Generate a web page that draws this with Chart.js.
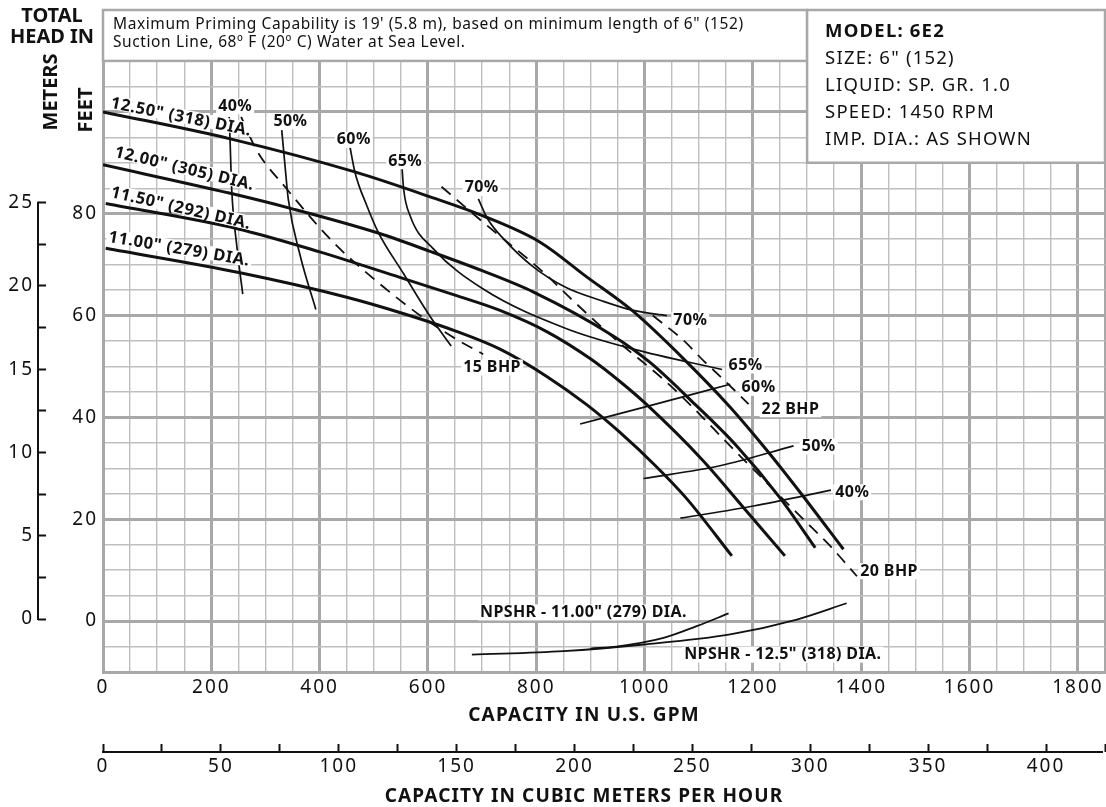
<!DOCTYPE html>
<html>
<head>
<meta charset="utf-8">
<title>6E2 pump curve</title>
<style>
  html, body { margin: 0; padding: 0; background: #fff; }
  canvas { display: block; }
</style>
</head>
<body>
<canvas id="pumpCurve" width="1106" height="807"></canvas>
<script src="https://cdn.jsdelivr.net/npm/chart.js"></script>
<script>
  const ctx = document.getElementById('pumpCurve').getContext('2d');

  // axis labels
  const gpmLabels = [0, 200, 400, 600, 800, 1000, 1200, 1400, 1600, 1800];
  const feetLabels = [0, 20, 40, 60, 80];
  const meterLabels = [0, 5, 10, 15, 20, 25];
  const meterTicks = [0, 2.5, 5, 7.5, 10, 12.5, 15, 17.5, 20, 22.5, 25];
  const m3hLabels = [0, 50, 100, 150, 200, 250, 300, 350, 400];

  // head curves [GPM, feet]
  const dia1250 = [[0, 100], [235, 94.7], [465, 88.2], [604, 83.3], [708, 79.3], [807, 74.4], [893, 67.6], [979, 60.8], [1072, 51.5], [1158, 42], [1226, 33.5], [1287, 25.3], [1367, 14.1]];
  const dia1200 = [[0, 89.6], [235, 84], [348, 81], [508, 76.2], [604, 72.6], [700, 68.8], [795, 64.6], [942, 56], [1010, 50.8], [1084, 43.5], [1170, 34.4], [1250, 24.2], [1315, 14.4]];
  const dia1150 = [[5, 82], [250, 77], [400, 72.5], [548, 67.5], [650, 64], [733, 61], [820, 56.8], [900, 51.5], [955, 47], [1004, 42.5], [1108, 31.5], [1180, 22.6], [1259, 12.8]];
  const dia1100 = [[5, 73.2], [253, 68.4], [450, 63.6], [548, 60.6], [650, 57], [733, 53.4], [820, 48], [893, 42.5], [955, 37], [1020, 30.5], [1078, 24], [1161, 12.8]];

  // efficiency curves
  const eff40a = [[233, 99], [234.5, 94.7], [237.6, 84.9], [247, 73.7], [258, 64.2]];
  const eff50a = [[330, 96.4], [336, 89.5], [342, 82.9], [364, 71.8], [393, 61.2]];
  const eff60a = [[456, 93.1], [465, 88.2], [487, 81.6], [508, 76.4], [555, 68.2], [604, 59.8], [643, 54]];
  const eff65 = [[552, 89.2], [555, 84.9], [567, 79.6], [610, 73.1], [702, 65.2], [856, 57.4], [979, 53.4], [1143, 49.4]];
  const eff70 = [[693, 82.9], [710, 79], [740, 75], [795, 69.5], [855, 65.5], [918, 63], [979, 61], [1041, 60]];
  const eff60b = [[881, 38.7], [1010, 42.3], [1158, 46.5]];
  const eff50b = [[998, 28], [1139, 30.5], [1275, 34.4]];
  const eff40b = [[1066, 20.2], [1201, 22.6], [1344, 25.7]];

  // brake horsepower
  const bhp15 = [[255, 99], [284, 92.4], [339, 84.9], [425, 74.4], [518, 65.6], [595, 59.3], [650, 55.5], [702, 52.4]];
  const bhp20 = [[625, 85.3], [702, 78.3], [813, 68.5], [868, 62.9], [942, 55.7], [1050, 46], [1170, 33.1], [1290, 20.3], [1343, 14.7], [1392, 8.8]];
  const bhp22 = [[1015, 60], [1072, 55.1], [1109, 51.1], [1146, 47.4], [1192, 42.6]];

  // NPSHR
  const npsh1250 = [[681, -6.6], [850, -5.9], [998, -4.6], [1158, -2.6], [1281, 0.3], [1373, 3.5]];
  const npsh1100 = [[900, -5.4], [948, -5.0], [1035, -3.3], [1096, -1.0], [1155, 1.5]];

  const FONT = '"Noto Sans", "Open Sans", sans-serif';
  const INK = '#111';
  const MAJOR = '#a8a8a8';
  const MINOR = '#bfbfbf';

  // curve labels: [text, gpm, feet, angle]
  const diaNotes = [
    ['12.50" (318) DIA.', 13, 100.8, 11.3],
    ['12.00" (305) DIA.', 20, 91.2, 13.6],
    ['11.50" (292) DIA.', 13, 83.3, 13],
    ['11.00" (279) DIA.', 9, 74.5, 9.7]
  ];
  // flat labels: [text, gpm, feet, align]
  const flatNotes = [
    ['40%', 244, 101.1, 'center'],
    ['50%', 346, 98.2, 'center'],
    ['60%', 463, 94.5, 'center'],
    ['65%', 558, 90.3, 'center'],
    ['70%', 699, 85.1, 'center'],
    ['70%', 1053, 59.1, 'left'],
    ['65%', 1155, 50.2, 'left'],
    ['60%', 1179, 45.8, 'left'],
    ['22 BHP', 1216, 41.6, 'left'],
    ['50%', 1290, 34.3, 'left'],
    ['40%', 1352, 25.3, 'left'],
    ['20 BHP', 1398, 9.8, 'left'],
    ['15 BHP', 665, 49.8, 'left'],
    ['NPSHR - 11.00" (279) DIA.', 696, 1.7, 'left'],
    ['NPSHR - 12.5" (318) DIA.', 1073, -6.6, 'left']
  ];
  const noteLines = ['Maximum Priming Capability is 19\' (5.8 m), based on minimum length of 6" (152)', 'Suction Line, 68º F (20º C) Water at Sea Level.'];
  const specLines = ['MODEL: 6E2', 'SIZE: 6" (152)', 'LIQUID: SP. GR. 1.0', 'SPEED: 1450 RPM', 'IMP. DIA.: AS SHOWN'];

  function curve(points, width, dash) {
    return {
      data: points.map(([x, y]) => ({ x, y })),
      borderColor: INK,
      borderWidth: width,
      borderDash: dash || [],
      pointRadius: 0,
      cubicInterpolationMode: 'monotone',
      fill: false
    };
  }

  function spacing(c, s) { if ('letterSpacing' in c) c.letterSpacing = s; }

  function text(c, str, x, y, font, align, sp, bg) {
    c.save();
    c.font = font;
    spacing(c, sp || '0px');
    c.textAlign = align || 'left';
    c.textBaseline = 'middle';
    if (bg) {
      const w = c.measureText(str).width;
      const x0 = align === 'center' ? x - w / 2 : x;
      c.fillStyle = '#fff';
      c.fillRect(x0 - 2, y - 8, w + 4, 16);
    }
    c.fillStyle = INK;
    c.fillText(str, x, y);
    c.restore();
  }

  const decor = {
    id: 'decor',
    beforeUpdate(chart) { spacing(chart.ctx, '2px'); },
    beforeDraw(chart) { spacing(chart.ctx, '2px'); },
    beforeDatasetsDraw(chart) {
      const c = chart.ctx, x = chart.scales.x, y = chart.scales.y;
      const boxes = [[0, 1300, 110, 120], [1300, 1850, 90, 120]];
      c.save();
      boxes.forEach(([x0, x1, y0, y1]) => {
        const l = x.getPixelForValue(x0), r = x.getPixelForValue(x1);
        const t = y.getPixelForValue(y1), b = y.getPixelForValue(y0);
        c.fillStyle = '#fff';
        c.fillRect(l, t, r - l, b - t);
        c.strokeStyle = MAJOR;
        c.lineWidth = 2.5;
        c.strokeRect(l, t, r - l, b - t);
      });
      c.restore();
    },
    afterDatasetsDraw(chart) {
      const c = chart.ctx, x = chart.scales.x, y = chart.scales.y;

      // rotated impeller labels
      diaNotes.forEach(([str, gx, fy, ang]) => {
        c.save();
        c.translate(x.getPixelForValue(gx), y.getPixelForValue(fy));
        c.rotate(ang * Math.PI / 180);
        c.font = 'bold 16.5px ' + FONT;
        spacing(c, '0.6px');
        const w = c.measureText(str).width;
        c.fillStyle = '#fff';
        c.fillRect(-2, -13, w + 4, 14);
        c.fillStyle = INK;
        c.textBaseline = 'alphabetic';
        c.fillText(str, 0, 0);
        c.restore();
      });

      flatNotes.forEach(([str, gx, fy, align]) => {
        text(c, str, x.getPixelForValue(gx), y.getPixelForValue(fy), 'bold 16px ' + FONT, align, '0.4px', true);
      });

      // note box text
      const lx = x.getPixelForValue(0) + 10;
      text(c, noteLines[0], lx, 25, '15.5px ' + FONT, 'left', '0.6px');
      text(c, noteLines[1], lx, 43, '15.5px ' + FONT, 'left', '0.6px');
      const rx = x.getPixelForValue(1300) + 18;
      specLines.forEach((s, i) => {
        text(c, s, rx, 32 + i * 27, (i === 0 ? 'bold ' : '') + '18.5px ' + FONT, 'left', '1.2px');
      });
    },
    afterDraw(chart) {
      const c = chart.ctx, ym = chart.scales.ym, x2 = chart.scales.x2;
      c.save();
      c.strokeStyle = INK;
      c.lineWidth = 2;
      // meters axis line
      const mx = ym.right - 8;
      c.beginPath();
      c.moveTo(mx, ym.getPixelForValue(25) - 1);
      c.lineTo(mx, ym.getPixelForValue(0) + 1);
      c.stroke();
      // cubic meters axis line
      const my = x2.top + 8;
      c.beginPath();
      c.moveTo(x2.left - 1, my);
      c.lineTo(x2.right - 2, my);
      c.stroke();
      c.restore();

      const bold = 'bold 20px ' + FONT;
      text(c, 'TOTAL', 52, 16, bold, 'center');
      text(c, 'HEAD IN', 52, 37, bold, 'center');
      [['METERS', 51, 92], ['FEET', 86, 110]].forEach(([s, px, py]) => {
        c.save();
        c.translate(px, py);
        c.rotate(-Math.PI / 2);
        text(c, s, 0, 0, bold, 'center');
        c.restore();
      });
      text(c, 'CAPACITY IN U.S. GPM', 584, 716, 'bold 19px ' + FONT, 'center', '1.2px');
      text(c, 'CAPACITY IN CUBIC METERS PER HOUR', 584, 797, 'bold 19px ' + FONT, 'center', '1.1px');
    }
  };

  const tickFont = { family: FONT, size: 19 };
  const isMajorX = v => v % 200 === 0 || v === 1850;
  const isMajorY = v => v % 20 === 0;

  new Chart(ctx, {
    type: 'line',
    data: {
      datasets: [
        curve(dia1250, 3), curve(dia1200, 3), curve(dia1150, 3), curve(dia1100, 3),
        curve(eff40a, 1.7), curve(eff50a, 1.7), curve(eff60a, 1.7), curve(eff65, 1.7), curve(eff70, 1.7),
        curve(eff60b, 1.7), curve(eff50b, 1.7), curve(eff40b, 1.7),
        curve(bhp15, 1.8, [12, 8]), curve(bhp20, 1.8, [12, 8]), curve(bhp22, 1.8, [12, 8]),
        curve(npsh1250, 1.8), curve(npsh1100, 1.8)
      ]
    },
    options: {
      responsive: false,
      animation: false,
      layout: { padding: { top: 10, right: 1, left: 0, bottom: 0 } },
      plugins: { legend: { display: false }, tooltip: { enabled: false } },
      scales: {
        x: {
          type: 'linear', position: 'bottom', min: 0, max: 1850, weight: 0,
          ticks: { stepSize: 50, autoSkip: false, maxRotation: 0, padding: 4, color: INK, font: tickFont,
                   callback: v => gpmLabels.includes(v) ? String(v) : '' },
          grid: { drawTicks: false,
                  color: c => isMajorX(c.tick ? c.tick.value : 0) ? MAJOR : MINOR,
                  lineWidth: c => isMajorX(c.tick ? c.tick.value : 0) ? 3 : 1.4 },
          border: { color: MAJOR, width: 3 },
          afterFit: s => { s.height = 72; s.paddingLeft = 0; s.paddingRight = 0; }
        },
        x2: {
          type: 'linear', position: 'bottom', min: 0, max: 425, weight: 1,
          ticks: { stepSize: 25, autoSkip: false, maxRotation: 0, padding: 3, color: INK, font: tickFont,
                   callback: v => m3hLabels.includes(v) ? String(v) : '' },
          grid: { drawOnChartArea: false, tickLength: 8, tickColor: INK, tickWidth: 2 },
          border: { display: false },
          afterFit: s => { s.height = 63; s.paddingLeft = 0; s.paddingRight = 0; }
        },
        y: {
          type: 'linear', position: 'left', min: -10, max: 120, weight: 0,
          ticks: { stepSize: 5, autoSkip: false, padding: 5, color: INK, font: tickFont,
                   callback: v => feetLabels.includes(v) ? String(v) : '' },
          grid: { drawTicks: false,
                  color: c => isMajorY(c.tick ? c.tick.value : 0) ? MAJOR : MINOR,
                  lineWidth: c => isMajorY(c.tick ? c.tick.value : 0) ? 3 : 1.4 },
          border: { color: MAJOR, width: 3 },
          afterFit: s => { s.width = 57; s.paddingTop = 0; s.paddingBottom = 0; }
        },
        ym: {
          type: 'linear', position: 'left', min: -3.18, max: 36.57, weight: 1,
          afterBuildTicks: s => { s.ticks = meterTicks.map(v => ({ value: v })); },
          ticks: { padding: 4, color: INK, font: tickFont,
                   callback: v => meterLabels.includes(v) ? String(v) : '' },
          grid: { drawOnChartArea: false, tickLength: 8, tickColor: INK, tickWidth: 2 },
          border: { display: false },
          afterFit: s => { s.width = 46; s.paddingTop = 0; s.paddingBottom = 0; }
        }
      }
    },
    plugins: [decor]
  });
</script>
</body>
</html>
